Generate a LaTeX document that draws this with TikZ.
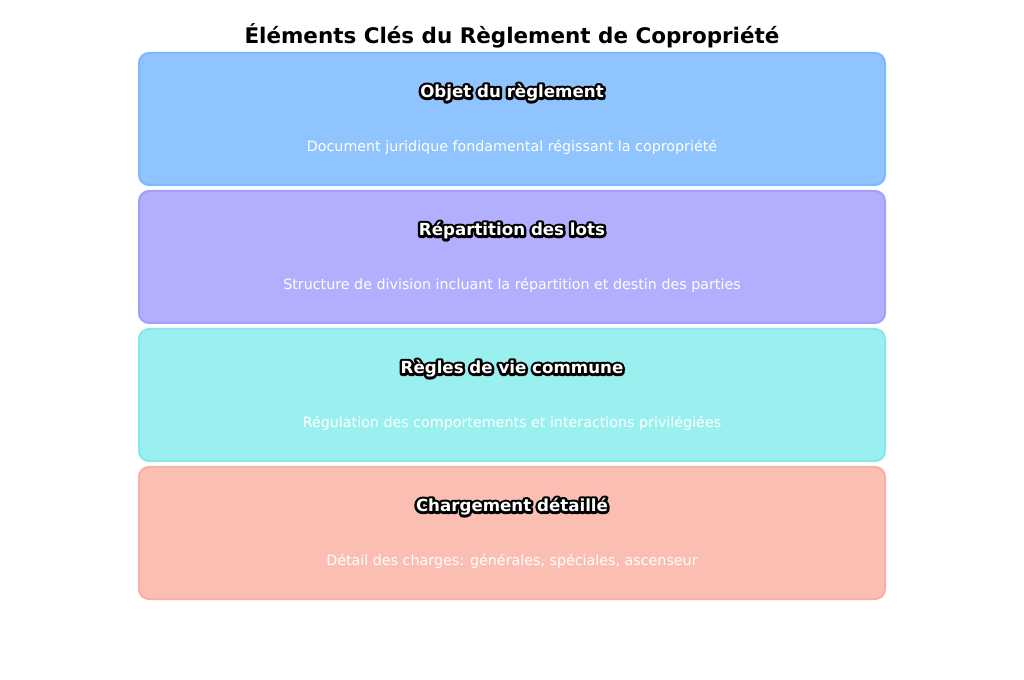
\documentclass[tikz,border=0pt]{standalone}
\usepackage{fontspec}
\setmainfont{DejaVu Sans}

\definecolor{bluefill}{HTML}{90C4FF}
\definecolor{blueline}{HTML}{7DB9FE}
\definecolor{violetfill}{HTML}{B3AFFF}
\definecolor{violetline}{HTML}{A49DFE}
\definecolor{cyanfill}{HTML}{9AEFEF}
\definecolor{cyanline}{HTML}{86E8EC}
\definecolor{redfill}{HTML}{FBBEB3}
\definecolor{redline}{HTML}{F9AFA2}

% white letters with a black outline
\newcommand{\strokedtext}[1]{%
  \special{pdf:literal 2 Tr 3.8 w 1 j 0 G}#1\special{pdf:literal 0 Tr}}

\begin{document}
\begin{tikzpicture}[x=0.75pt, y=-0.75pt,
    card/.style={draw=#1line, fill=#1fill, line width=1.5pt, rounded corners=7.5pt,
      minimum width=559.5pt, minimum height=99pt},
    heading/.style={font=\bfseries\fontsize{12.5}{14}\selectfont},
    desc/.style={font=\fontsize{10.7}{12}\selectfont, text=white}]
  % Page:
  \useasboundingbox[fill=white] (0,0) rectangle (1024,680);
  \node[font=\bfseries\fontsize{16.1}{19}\selectfont] (title) at (512,36)
    {Éléments Clés du Règlement de Copropriété};
  % Cards:
  \foreach \i/\c/\head/\text in {
      1/blue/Objet du règlement/{Document juridique fondamental régissant la copropriété},
      2/violet/Répartition des lots/{Structure de division incluant la répartition et destin des parties},
      3/cyan/Règles de vie commune/{Régulation des comportements et interactions privilégiées},
      4/red/Chargement détaillé/{Détail des charges: générales, spéciales, ascenseur}} {
    \node[card=\c] (box\i) at (512, {119+138*(\i-1)}) {};
    \node[heading, text=white] (head\i) at ([yshift=19.8pt]box\i.center) {\strokedtext{\head}};
    \node[heading, text=white] at ([yshift=19.8pt]box\i.center) {\head};
    \node[desc] (desc\i) at ([yshift=-21.3pt]box\i.center) {\text};
  }
\end{tikzpicture}
\end{document}
